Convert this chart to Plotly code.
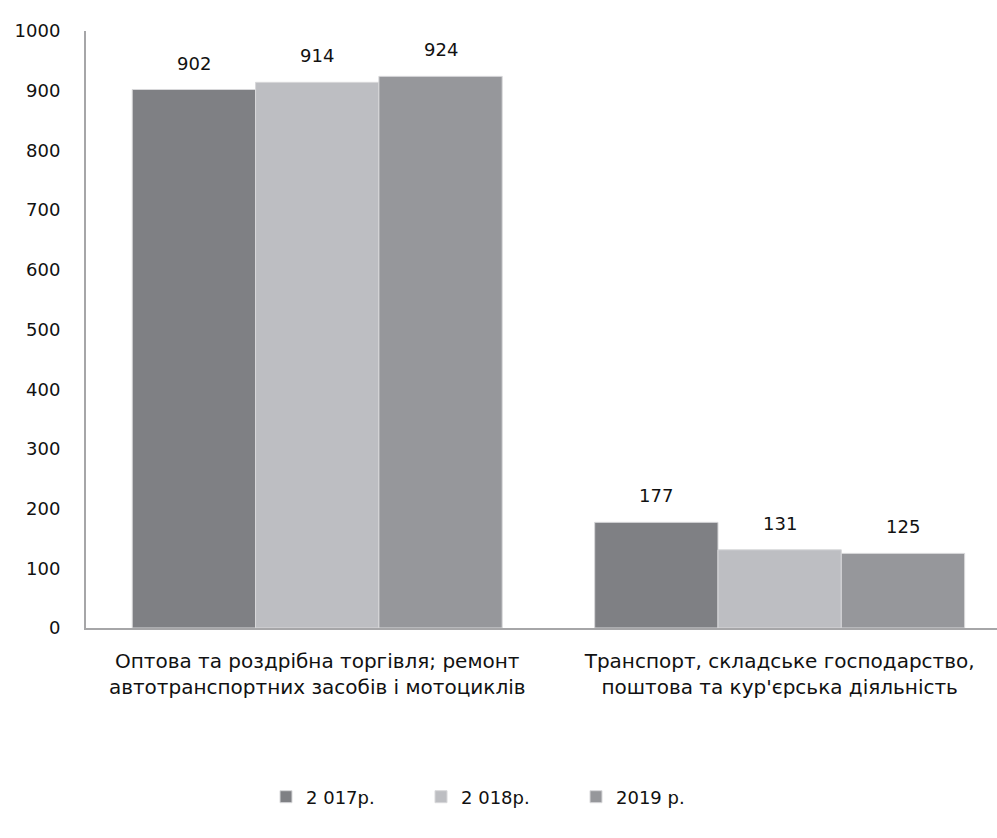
import plotly.graph_objects as go

# Categories (two lines each) and yearly series
categories = [
    "Оптова та роздрібна торгівля; ремонт<br>автотранспортних засобів і мотоциклів",
    "Транспорт, складське господарство,<br>поштова та кур'єрська діяльність",
]
series_names = ["2 017р.", "2 018р.", "2019 р."]
values_2017 = [902, 177]
values_2018 = [914, 131]
values_2019 = [924, 125]
series_values = [values_2017, values_2018, values_2019]
colors = ["#7f8084", "#bdbec2", "#96979b"]
y_ticks = [0, 100, 200, 300, 400, 500, 600, 700, 800, 900, 1000]

FONT = "DejaVu Sans"
BARGAP = 0.2

fig = go.Figure()
for name, vals, col in zip(series_names, series_values, colors):
    fig.add_trace(go.Bar(
        x=categories, y=vals, name=name,
        marker=dict(color=col, line=dict(color="#d8d8da", width=1)),
    ))

# value labels above each bar
n = len(series_names)
w = (1 - BARGAP) / n
for i, vals in enumerate(series_values):
    for j, v in enumerate(vals):
        fig.add_annotation(
            x=j + (i - (n - 1) / 2) * w, y=v, text=str(v),
            showarrow=False, yanchor="bottom", yshift=14,
            font=dict(family=FONT, size=18, color="#111111"),
        )

fig.update_layout(
    width=997, height=838,
    margin=dict(l=86, r=0, t=31, b=210),
    paper_bgcolor="white", plot_bgcolor="white",
    barmode="group", bargap=BARGAP, bargroupgap=0,
    font=dict(family=FONT, size=17, color="#111111"),
    showlegend=True,
    legend=dict(
        orientation="h", xref="container", yref="container",
        x=0.5, xanchor="center", y=1 - 797 / 838, yanchor="middle",
        font=dict(family=FONT, size=18, color="#111111"),
        itemwidth=30, entrywidth=110, traceorder="normal",
    ),
)
fig.update_xaxes(
    type="category", range=[-0.5, 1.47],
    showline=True, linecolor="#a6a6a8", linewidth=2,
    showgrid=False, ticks="",
    ticklabelstandoff=14,
    tickfont=dict(family=FONT, size=20, color="#111111"),
)
fig.update_yaxes(
    range=[0, 1000], tickvals=y_ticks,
    showline=True, linecolor="#a6a6a8", linewidth=2,
    showgrid=False, zeroline=False, ticks="",
    ticklabelstandoff=20,
    tickfont=dict(family=FONT, size=18, color="#111111"),
)

fig.write_html("out.html")
